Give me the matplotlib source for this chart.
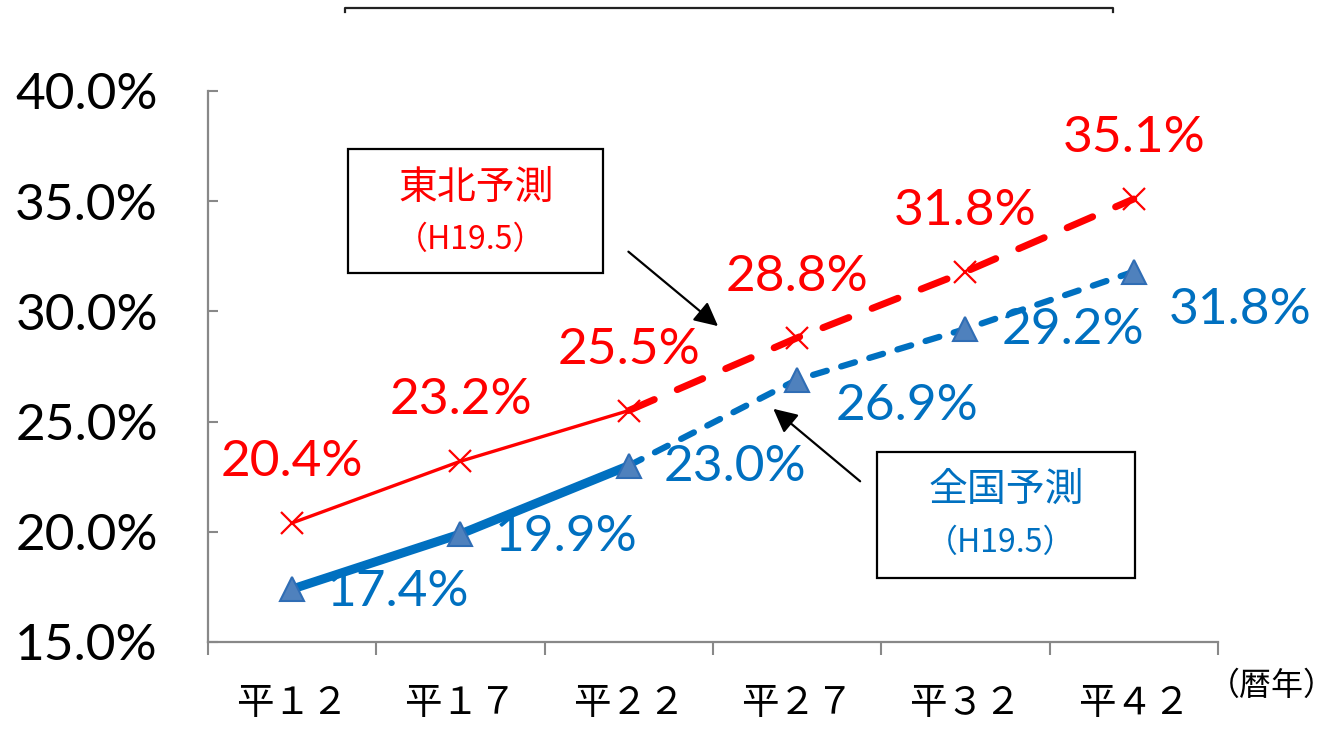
import matplotlib
matplotlib.use('Agg')
import matplotlib.pyplot as plt
from matplotlib.lines import Line2D
from matplotlib.patches import Rectangle

plt.rcParams['font.family'] = ['Lato', 'Noto Sans CJK JP', 'DejaVu Sans']

years = ['平１２', '平１７', '平２２', '平２７', '平３２', '平４２']
tohoku = [20.4, 23.2, 25.5, 28.8, 31.8, 35.1]
zenkoku = [17.4, 19.9, 23.0, 26.9, 29.2, 31.8]
n_actual = 3  # first three points are actual values, rest are forecasts

red = '#FF0000'
blue = '#0070C0'
gray = '#888888'
cjk = ['Noto Sans CJK JP']

fig = plt.figure(figsize=(13.39, 7.32), dpi=100)
ax = fig.add_axes([0.1553, 0.1230, 0.7543, 0.7527])

x = list(range(len(years)))
k = n_actual - 1

# 東北
ax.plot(x[:n_actual], tohoku[:n_actual], color=red, lw=2.4, zorder=3)
ax.plot(x[k:], tohoku[k:], color=red, lw=5, dashes=(4, 3.6),
        dash_capstyle='round', zorder=3)
ax.plot(x, tohoku, ls='', marker='x', ms=16, mew=1.6, color=red, zorder=4)

# 全国
ax.plot(x[:n_actual], zenkoku[:n_actual], color=blue, lw=6.5,
        solid_capstyle='round', zorder=3)
ax.plot(x[k:], zenkoku[k:], color=blue, lw=4.5, dashes=(2.3, 2.4),
        dash_capstyle='round', zorder=3)
ax.plot(x, zenkoku, ls='', marker='^', ms=17, mfc='#4F81BD', mec='#2F6DB5',
        mew=1.5, zorder=4)

# data labels
for i, v in enumerate(tohoku):
    ax.annotate(f'{v:.1f}%', (i, v), xytext=(0, 61), textcoords='offset pixels',
                ha='center', va='center', color=red, fontsize=37, zorder=5)
blue_off = [(106, -3), (106, -3), (106, -1), (110, -26), (107, -1), (106, -38)]
for i, v in enumerate(zenkoku):
    ax.annotate(f'{v:.1f}%', (i, v), xytext=blue_off[i], textcoords='offset pixels',
                ha='center', va='center', color=blue, fontsize=37, zorder=5)

# label boxes
ax.add_patch(Rectangle((0.333, 31.74), 1.515, 5.63, fc='white', ec='black',
                       lw=1.6, zorder=6))
ax.text(1.093, 35.6, '東北予測', color=red, fontsize=28, ha='center',
        va='center', family=cjk, zorder=7)
ax.text(1.06, 33.24, '（H19.5）', color=red, fontsize=23, ha='center',
        va='center', family=cjk, zorder=7)
ax.add_patch(Rectangle((3.476, 17.90), 1.533, 5.72, fc='white', ec='black',
                       lw=1.6, zorder=6))
ax.text(4.243, 21.9, '全国予測', color=blue, fontsize=28, ha='center',
        va='center', family=cjk, zorder=7)
ax.text(4.21, 19.49, '（H19.5）', color=blue, fontsize=23, ha='center',
        va='center', family=cjk, zorder=7)

# arrows
arrow = dict(arrowstyle='-|>', color='black', lw=1.6, mutation_scale=36)
ax.annotate('', xy=(2.543, 29.25), xytext=(1.985, 32.79), arrowprops=arrow, zorder=6)
ax.annotate('', xy=(2.846, 25.66), xytext=(3.387, 22.21), arrowprops=arrow, zorder=6)

# axes
ax.set_xlim(-0.5, len(years) - 0.5)
ax.set_ylim(15, 40)
ax.set_yticks([15, 20, 25, 30, 35, 40])
ax.set_yticklabels([f'{t:.1f}%' for t in [15, 20, 25, 30, 35, 40]])
ax.set_xticks(x)
ax.set_xticklabels(years, fontsize=27, family=cjk)
ax.set_xticks([i - 0.5 for i in range(len(years) + 1)], minor=True)
ax.tick_params(axis='x', which='major', length=0, pad=30)
ax.tick_params(axis='x', which='minor', length=9, width=1.5, color=gray,
               direction='out')
ax.tick_params(axis='y', length=7, width=1.5, color=gray, direction='in',
               labelsize=37, pad=36)
for s in ['top', 'right']:
    ax.spines[s].set_visible(False)
for s in ['left', 'bottom']:
    ax.spines[s].set_color(gray)
    ax.spines[s].set_linewidth(1.6)

fig.text(0.9975, 0.0628, '（暦年）', fontsize=23, ha='right', va='center',
         family=cjk)

# remaining edge of the title box at the top
x0, x1 = 345 / 1339, 1113 / 1339
y0, y1 = 1 - 8 / 732, 1 - 12 / 732
fig.add_artist(Line2D([x0, x0, x1, x1], [y1, y0, y0, y1],
                      transform=fig.transFigure, color='#222222', lw=1.6))

fig.savefig('out.png', dpi=100)
